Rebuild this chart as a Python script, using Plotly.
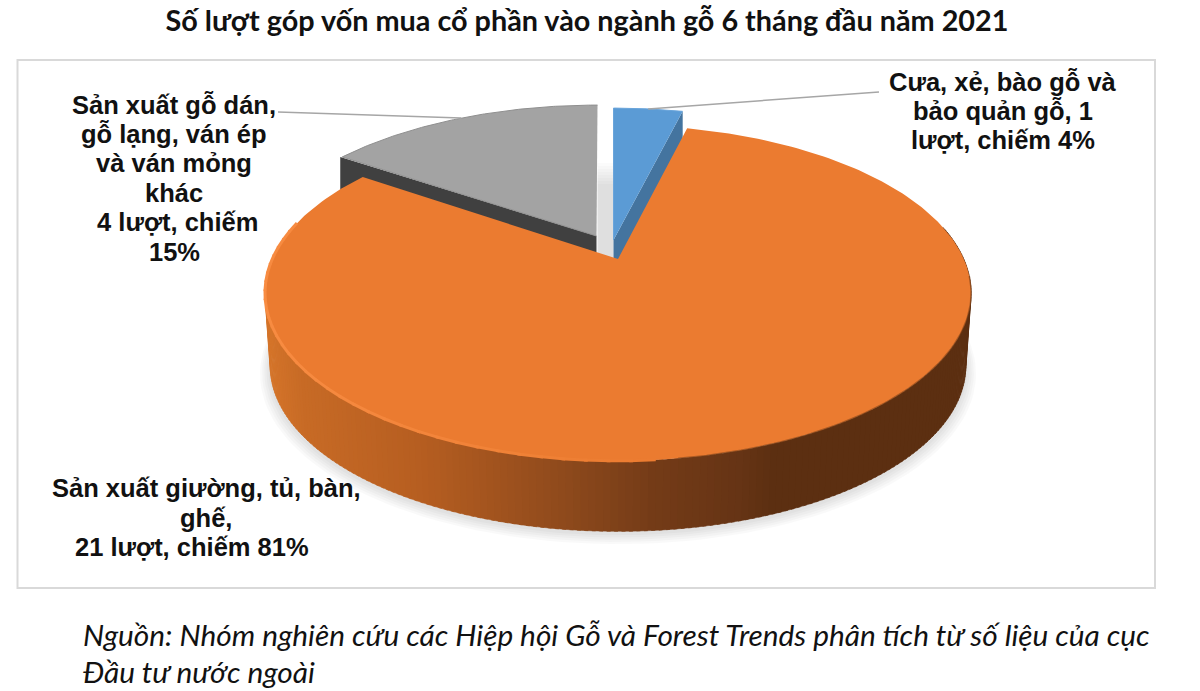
import numpy as np
import plotly.graph_objects as go

# so luot theo nganh, doc tu nhan tren bieu do
categories = ['Cưa, xẻ, bào gỗ', 'Sản xuất giường, tủ, bàn, ghế', 'Sản xuất gỗ dán, gỗ lạng, ván ép']
counts = [1, 21, 4]
label_texts = [
    ['Cưa, xẻ, bào gỗ và', 'bảo quản gỗ, 1', 'lượt, chiếm 4%'],
    ['Sản xuất giường, tủ, bàn,', 'ghế,', '21 lượt, chiếm 81%\u00a0\u00a0\u00a0\u00a0'],
    ['Sản xuất gỗ dán,', 'gỗ lạng, ván ép', 'và ván mỏng', 'khác', '\u00a04 lượt, chiếm', '15%'],
]
title_text = 'Số lượt góp vốn mua cổ phần vào ngành gỗ 6 tháng đầu năm 2021'
source_lines = [
    'Nguồn: Nhóm nghiên cứu các Hiệp hội Gỗ và Forest Trends phân tích từ số liệu của cục',
    'Đầu tư nước ngoài',
]

# hinh hoc cua pie phoi canh (pixel)
CX, CY = 618, 259
R, S, K = 345.8, 161, 0.2023
DEPTH = 73.5
BOTTOM_SCALE = 0.985
OFFSETS = [(-4.5, -17), (0, 0), (-20.5, -20)]
BLUE, ORANGE, GREY = '#5B9BD5', '#EB7B30', '#A3A3A3'

wall_x = [268, 300, 420, 550, 650, 740, 775, 980]
wall_rgb = [(212, 116, 42), (200, 107, 38), (182, 94, 33), (146, 76, 29),
            (117, 60, 24), (102, 52, 21), (92, 47, 17), (92, 47, 17)]


def rim(theta, dx=0, dy=0, scale=1.0):
    t = np.radians(theta)
    u, v = np.sin(t), np.cos(t)
    w = 1 + K * v
    return CX + dx + scale * R * u / w, CY + dy - scale * S * v / w


def arc(start, end, n=120, **kw):
    return rim(np.linspace(start, end, n), **kw)


def poly(x, y, color, line=None, width=0):
    return go.Scatter(x=list(x), y=list(y), mode='lines', fill='toself', fillcolor=color,
                      line=dict(color=line or color, width=width), hoverinfo='skip', showlegend=False)


def path(x, y, color, width=1):
    return go.Scatter(x=list(x), y=list(y), mode='lines', line=dict(color=color, width=width),
                      hoverinfo='skip', showlegend=False)


def wall_color(x):
    rgb = [np.interp(x, wall_x, [c[i] for c in wall_rgb]) for i in range(3)]
    return 'rgb(%d,%d,%d)' % tuple(rgb)


total = sum(counts)
edges = np.cumsum([0] + counts) / total * 360
fig = go.Figure()

# bong do
for i in range(5):
    sx, sy = arc(60, 300, dy=DEPTH + 3 + i, scale=BOTTOM_SCALE + 0.005 + i * 0.006)
    fig.add_trace(poly(sx, sy, 'rgba(0,0,0,0.022)'))

# bong o khe giua lat xam va lat xanh
gx0, gx1 = rim(edges[3], *OFFSETS[2])[0], rim(edges[0], *OFFSETS[0])[0]
for y0 in range(163, 185, 3):
    fig.add_trace(poly([gx0, gx1, gx1, gx0], [y0, y0, 262, 262], 'rgba(0,0,0,0.015)'))

# lat xam
dx, dy = OFFSETS[2]
ax, ay = CX + dx - 1, CY + dy - 3
tx, ty = rim(edges[2], dx, dy)
fig.add_trace(poly([tx - 2, ax, ax, tx - 2], [ty, ay, ay + DEPTH, ty + DEPTH], '#404040'))
gx, gy = arc(edges[2], edges[3], dx=dx, dy=dy)
fig.add_trace(poly([ax, *gx], [ay, *gy], GREY, line='#8F8F8F', width=1))

# lat xanh
dx, dy = OFFSETS[0]
ax, ay = CX + dx, CY + dy - 2
tx, ty = rim(edges[1], dx, dy)
fig.add_trace(poly([tx, ax, ax, tx], [ty, ay, ay + DEPTH, ty + DEPTH], '#44749F'))
bx, by = arc(edges[0], edges[1], dx=dx, dy=dy)
fig.add_trace(poly([ax, *bx], [ay, *by], BLUE, line='#6AA5DB', width=1))

# thanh lat cam, to theo tung doan
for a in np.arange(78, 283, 1.0):
    tx, ty = arc(a, a + 1.5, n=3)
    lx, ly = arc(a, a + 1.5, n=3, dy=DEPTH, scale=BOTTOM_SCALE)
    fig.add_trace(poly([*tx, *lx[::-1]], [*ty, *ly[::-1]], wall_color(tx.mean()), width=0.5))

# mat lat cam
ox, oy = arc(edges[1], edges[2], n=240)
fig.add_trace(poly([CX, *ox], [CY, *oy], ORANGE))

# vien sang ben trai, vien toi ben phai
for a in np.arange(175, 282, 3.0):
    tx, ty = arc(a, a + 3.5, n=4)
    mix = np.clip((tx.mean() - 268) / 420, 0, 1)
    col = 'rgb(%d,%d,%d)' % (248 - 13 * mix, 140 - 17 * mix, 66 - 18 * mix)
    fig.add_trace(path(tx, ty, col, 3))
tx, ty = arc(96, 172, n=80)
fig.add_trace(path(tx, ty, 'rgba(120,62,22,0.55)', 1.5))

# duong dan nhan
label_pos = [(1003, 81), (206, 488), (174, 104)]
leader_end = [(879, 92), None, (278, 112)]
for i, end in enumerate(leader_end):
    if end is None:
        continue
    mid = (edges[i] + edges[i + 1]) / 2
    px, py = rim(mid, *OFFSETS[i])
    fig.add_trace(path([px, end[0]], [py, end[1]], '#A6A6A6', 1.5))

# khung
fig.add_shape(type='rect', x0=17.5, x1=1155, y0=60, y1=588, line=dict(color='#D9D9D9', width=2), layer='below')

for (x, y), lines in zip(label_pos, label_texts):
    for n, txt in enumerate(lines):
        fig.add_annotation(x=x, y=y + n * 29.6, text='<b>%s</b>' % txt, showarrow=False, align='center',
                           font=dict(family='Liberation Sans', size=25.5, color='#111111'))

for y, txt in zip([634, 671], source_lines):
    fig.add_annotation(x=81, y=y, text='<i>%s</i>' % txt, showarrow=False, xanchor='left',
                       font=dict(family='Lato', size=29.8, color='#111111'))

fig.update_layout(
    title=dict(text='<b>%s</b>' % title_text, x=587 / 1200, y=1 - 21 / 691, xanchor='center', yanchor='middle',
               font=dict(family='Lato', size=28.8, color='#111111')),
    width=1200, height=691, margin=dict(l=0, r=0, t=0, b=0),
    paper_bgcolor='white', plot_bgcolor='white', showlegend=False,
    xaxis=dict(range=[0, 1200], visible=False, fixedrange=True),
    yaxis=dict(range=[691, 0], visible=False, fixedrange=True),
)

fig.write_html("out.html", post_script="document.body.style.margin='0';", config=dict(displayModeBar=False))
